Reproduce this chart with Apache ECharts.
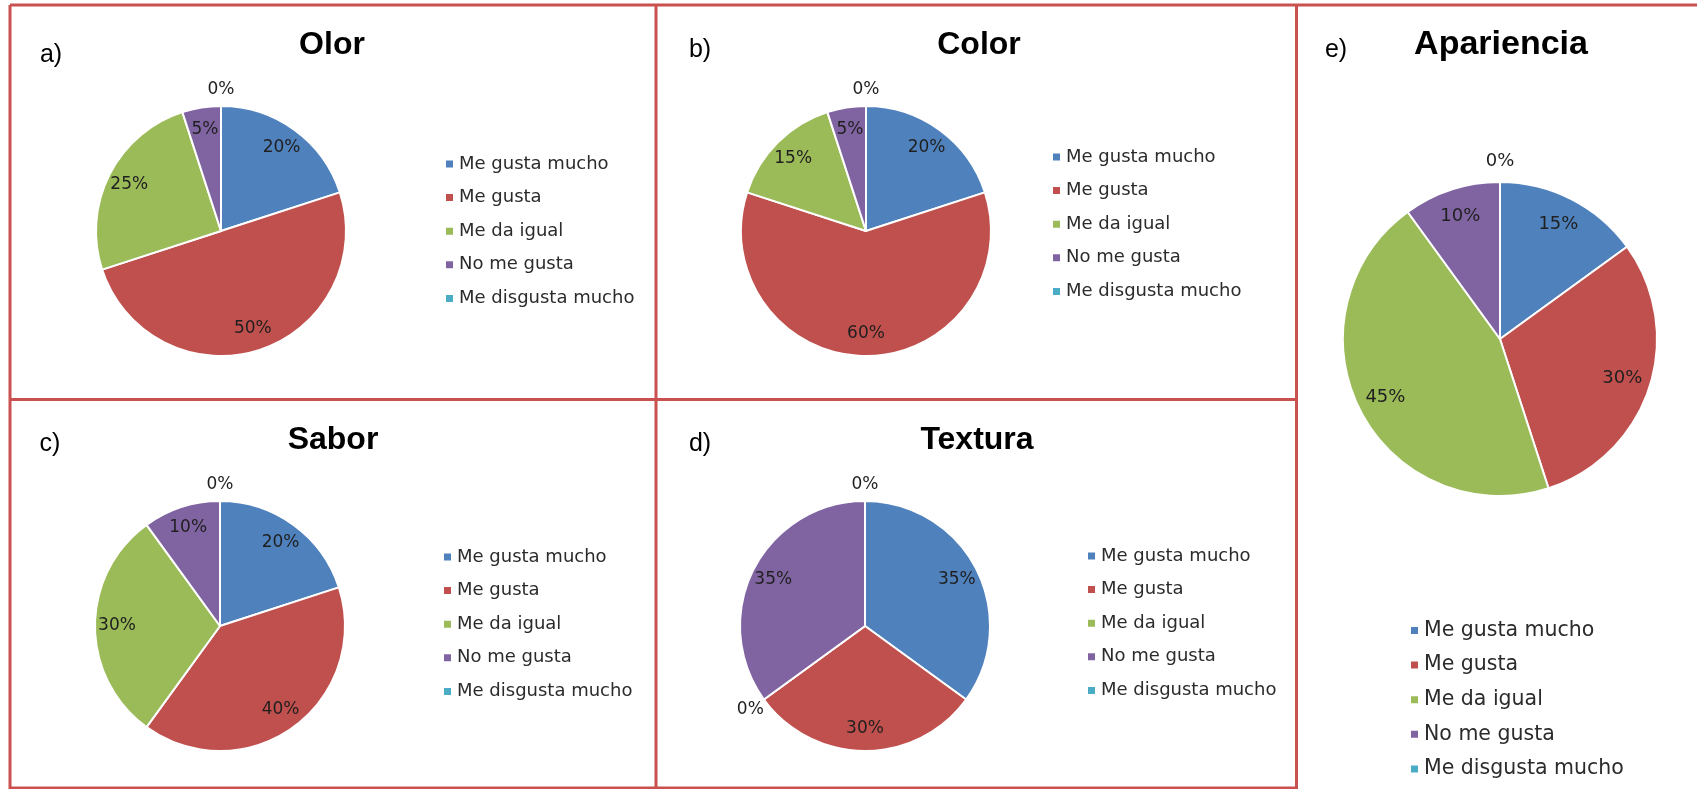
<!DOCTYPE html>
<html>
<head>
<meta charset="utf-8">
<script src="https://cdn.jsdelivr.net/npm/echarts@6/dist/echarts.min.js"></script>
<style>
  html, body { margin: 0; padding: 0; background: #fff; }
  #chart { width: 1697px; height: 789px; }
</style>
</head>
<body>
<div id="chart"></div>
<script>
// categories and values (percent)
var categories = ['Me gusta mucho', 'Me gusta', 'Me da igual', 'No me gusta', 'Me disgusta mucho'];
var olorValues = [20, 50, 25, 5, 0];
var colorValues = [20, 60, 15, 5, 0];
var saborValues = [20, 40, 30, 10, 0];
var texturaValues = [35, 30, 0, 35, 0];
var aparienciaValues = [15, 30, 45, 10, 0];
var panelTitles = ['Olor', 'Color', 'Sabor', 'Textura', 'Apariencia'];
var panelTags = ['a)', 'b)', 'c)', 'd)', 'e)'];

var palette = ['#4f81bd', '#c0504d', '#9bbb59', '#8064a2', '#4bacc6'];
var frameColor = '#c9514f';

// layout of each panel (pixels)
var panels = [
  { values: olorValues, center: [221, 231], r: 125, title: [332, 45], tag: [51, 55], legend: [444, 154], font: 17, legendFont: 18, titleFont: 32 },
  { values: colorValues, center: [866, 231], r: 125, title: [979, 45], tag: [700, 50], legend: [1051, 147], font: 17, legendFont: 18, titleFont: 32 },
  { values: saborValues, center: [220, 626], r: 125, title: [333, 440], tag: [50, 444], legend: [442, 547], font: 17, legendFont: 18, titleFont: 32 },
  { values: texturaValues, center: [865, 626], r: 125, title: [977, 440], tag: [700, 444], legend: [1086, 546], font: 17, legendFont: 18, titleFont: 32 },
  { values: aparienciaValues, center: [1500, 339], r: 157, title: [1501, 45], tag: [1336, 50], legend: [1409, 620], font: 18, legendFont: 20.5, titleFont: 34 }
];

function toData (values) {
  return values.map(function (v, i) {
    return { name: categories[i], value: v };
  });
}

var series = [];
var legends = [];
var graphics = [];

panels.forEach(function (p, idx) {
  // the visible pie
  series.push({
    type: 'pie',
    center: p.center,
    radius: [0, p.r],
    startAngle: 90,
    clockwise: true,
    avoidLabelOverlap: false,
    label: { show: false },
    labelLine: { show: false },
    itemStyle: { borderColor: '#fff', borderWidth: 2 },
    emphasis: { disabled: true },
    data: toData(p.values)
  });
  // transparent ring carrying the inner percentage labels (~0.8 r)
  series.push({
    type: 'pie',
    center: p.center,
    radius: [p.r * 0.6, p.r],
    startAngle: 90,
    clockwise: true,
    silent: true,
    avoidLabelOverlap: false,
    itemStyle: { color: 'rgba(0,0,0,0)', borderWidth: 0 },
    emphasis: { disabled: true },
    labelLine: { show: false },
    label: {
      show: true,
      position: 'inside',
      color: '#1f1f1f',
      fontFamily: 'DejaVu Sans',
      fontSize: p.font,
      formatter: function (d) { return d.value > 0 ? d.value + '%' : ''; }
    },
    data: toData(p.values)
  });
  // ring just outside the pie for the 0% labels
  series.push({
    type: 'pie',
    center: p.center,
    radius: [p.r, p.r * 1.22],
    startAngle: 90,
    clockwise: true,
    silent: true,
    avoidLabelOverlap: false,
    itemStyle: { color: 'rgba(0,0,0,0)', borderWidth: 0 },
    emphasis: { disabled: true },
    labelLine: { show: false },
    label: {
      show: true,
      position: 'inside',
      color: '#1f1f1f',
      fontFamily: 'DejaVu Sans',
      fontSize: p.font,
      formatter: function (d) { return d.value === 0 ? '0%' : ''; }
    },
    data: toData(p.values)
  });

  legends.push({
    orient: 'vertical',
    left: p.legend[0],
    top: p.legend[1],
    padding: 0,
    icon: 'rect',
    itemWidth: 9,
    itemHeight: 9,
    itemGap: 13.6,
    selectedMode: false,
    textStyle: { color: '#2b2b2b', fontFamily: 'DejaVu Sans', fontSize: p.legendFont, lineHeight: 20 },
    data: categories
  });

  graphics.push({
    type: 'text',
    x: p.title[0],
    y: p.title[1],
    style: {
      text: panelTitles[idx],
      font: 'bold ' + p.titleFont + 'px "Liberation Sans", Arial, sans-serif',
      fill: '#000',
      textAlign: 'center',
      textVerticalAlign: 'middle'
    }
  });
  graphics.push({
    type: 'text',
    x: p.tag[0],
    y: p.tag[1],
    style: {
      text: panelTags[idx],
      font: '25px "Liberation Sans", Arial, sans-serif',
      fill: '#000',
      textAlign: 'center',
      textVerticalAlign: 'middle'
    }
  });
});

// panel frames
var frameLines = [
  [10, 5, 1697, 5],
  [10, 5, 10, 789],
  [10, 399.5, 1296, 399.5],
  [656, 5, 656, 789],
  [1296.5, 5, 1296.5, 789],
  [10, 788, 1296, 788]
];
frameLines.forEach(function (l) {
  graphics.push({
    type: 'line',
    shape: { x1: l[0], y1: l[1], x2: l[2], y2: l[3] },
    style: { stroke: frameColor, lineWidth: 3 },
    silent: true
  });
});

var chart = echarts.init(document.getElementById('chart'), null, { renderer: 'canvas' });
chart.setOption({
  animation: false,
  color: palette,
  legend: legends,
  series: series,
  graphic: graphics
});
</script>
</body>
</html>
